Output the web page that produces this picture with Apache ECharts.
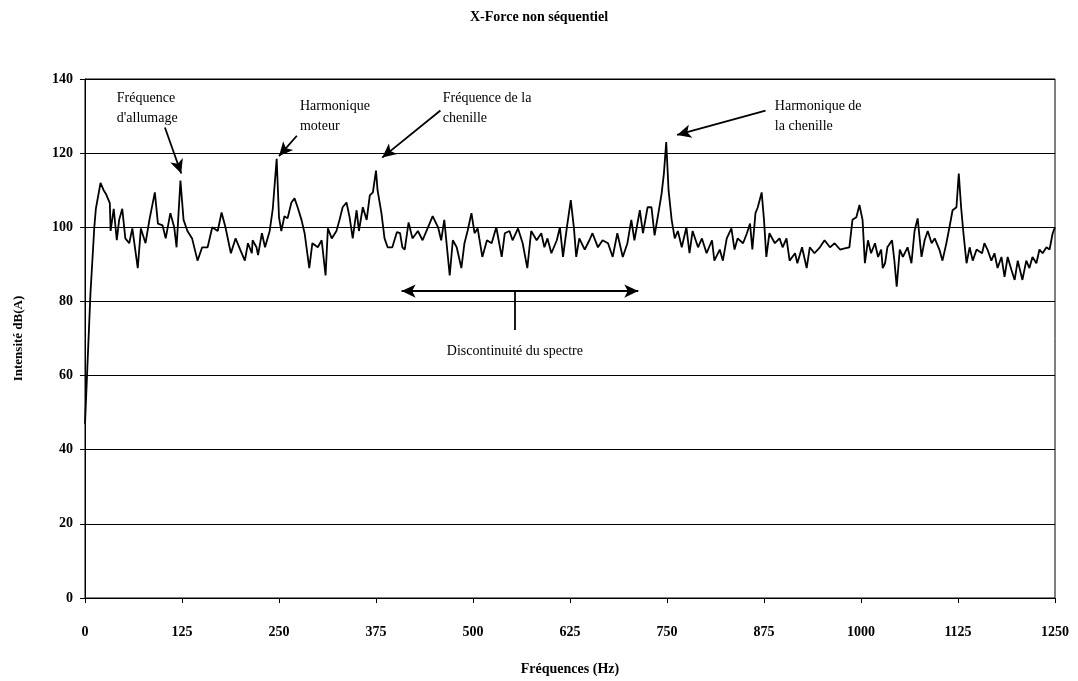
<!DOCTYPE html>
<html>
<head>
<meta charset="utf-8">
<script src="https://cdn.jsdelivr.net/npm/echarts@6/dist/echarts.min.js"></script>
<style>
  html, body { margin: 0; padding: 0; background: #fff; }
  #chart { width: 1078px; height: 681px; }
</style>
</head>
<body>
<div id="chart"></div>
<script>
// fréquences (Hz) et intensité dB(A)
const freq = [0, 3, 7, 12, 14, 20, 24, 27, 32, 33, 37, 41, 44, 48, 52, 57, 61, 68, 72, 78,
  83, 90, 94, 100, 104, 110, 115, 118, 123, 127, 132, 138, 145, 151, 158, 164, 171, 176, 181, 188,
  194, 200, 206, 210, 215, 216, 221, 223, 228, 232, 238, 242, 247, 250, 253, 257, 261, 266, 270, 274,
  279, 283, 289, 293, 300, 305, 310, 313, 318, 324, 328, 332, 337, 341, 345, 350, 353, 358, 363, 367,
  371, 375, 377, 382, 386, 390, 396, 402, 406, 409, 412, 417, 422, 429, 435, 442, 448, 455, 459, 463,
  470, 474, 479, 485, 489, 493, 498, 502, 506, 512, 518, 524, 530, 537, 541, 547, 551, 558, 564, 570,
  575, 582, 588, 592, 596, 601, 608, 612, 616, 621, 626, 630, 633, 637, 644, 650, 654, 661, 667, 674,
  680, 686, 693, 699, 704, 708, 715, 719, 725, 730, 734, 738, 743, 746, 749, 752, 756, 760, 764, 769,
  775, 779, 783, 790, 795, 801, 808, 811, 818, 822, 827, 833, 837, 841, 848, 853, 857, 860, 864, 867,
  872, 875, 878, 882, 889, 895, 899, 904, 908, 915, 918, 924, 930, 934, 940, 947, 953, 960, 966, 973,
  979, 985, 989, 994, 998, 1002, 1005, 1009, 1013, 1018, 1022, 1026, 1028, 1031, 1034, 1040, 1043, 1046, 1050, 1054,
  1060, 1065, 1069, 1073, 1078, 1082, 1086, 1091, 1095, 1101, 1105, 1110, 1114, 1118, 1123, 1126, 1129, 1132, 1136, 1140,
  1144, 1149, 1156, 1159, 1163, 1168, 1172, 1176, 1181, 1185, 1189, 1194, 1198, 1202, 1208, 1213, 1217, 1221, 1226, 1230,
  1234, 1239, 1243, 1247, 1250]
const intensity = [47, 62, 82, 100, 105, 112, 110, 109, 106.5, 99, 105, 96.5, 102, 105, 97, 95.7, 99.7, 89, 99.7, 95.7,
  102, 109.4, 101, 100.5, 97, 103.8, 100, 94.6, 112.6, 102, 99, 97, 91, 94.6, 94.6, 100, 99, 104, 100, 93,
  97, 94, 91, 95.7, 93, 96.5, 94.6, 92.5, 98.4, 94.6, 99, 105, 118.5, 102.7, 99, 103, 102.4, 106.7, 107.8, 105.4,
  102, 98.4, 89, 95.7, 94.6, 96.5, 87, 99.7, 97, 99, 102, 105.4, 106.7, 102.7, 97, 104.6, 99, 105.4, 102, 108.6,
  109.4, 115.3, 110, 103.8, 97, 94.6, 94.6, 98.7, 98.4, 94.6, 94, 101.3, 97, 99, 96.5, 100, 103, 100, 96.5, 102,
  87, 96.5, 94.6, 89, 95.7, 99, 103.8, 98.4, 99.7, 92, 96.5, 95.7, 100, 92, 98.4, 99, 96.5, 99.7, 95.7, 89,
  99, 96.5, 98.4, 94.6, 97, 93, 96.5, 100, 92, 100, 107.3, 100, 92, 97, 94, 96.5, 98.4, 94.6, 96.5, 95.7,
  92, 98.4, 92, 95.7, 102, 96.5, 104.6, 98.4, 105.4, 105.4, 97.8, 102.7, 109, 114.5, 123, 110, 102, 97, 99, 94.6,
  100, 93, 99, 94.6, 97, 93, 96.5, 91, 94, 91, 97, 99.7, 94, 97, 95.7, 98.4, 101, 94, 103.8, 105.4,
  109.4, 102, 92, 98.4, 95.7, 97, 94.6, 97, 91, 93, 90.3, 94.6, 89, 94.6, 93, 94.6, 96.5, 94.6, 95.7, 94,
  94.3, 94.6, 102, 102.7, 106, 102, 90.3, 96.5, 93, 95.7, 92, 94, 89, 90.3, 94.6, 96.5, 91, 84, 94, 92,
  94.6, 90.3, 99, 102.4, 92, 96.5, 99, 95.7, 97, 94, 91, 95.7, 100, 104.6, 105.4, 114.5, 105.4, 98.4, 90.3, 94.6,
  91, 94, 93, 95.7, 94, 91, 93, 89, 92, 86.6, 92, 88.4, 85.8, 91, 85.8, 91, 89, 92, 90.3, 94,
  93, 94.6, 94, 98.4, 100]

const xTicks = { min: 0, max: 1250, interval: 125 }
const yTicks = { min: 0, max: 140, interval: 20 }

// annotations : [x, y, texte] (coin haut-gauche du texte)
const labelPoints = [
  [41, 137.4, 'Fréquence\nd\'allumage'],
  [277, 135.2, 'Harmonique\nmoteur'],
  [461, 137.4, 'Fréquence de la\nchenille'],
  [889, 135.2, 'Harmonique de\nla chenille']
]
const noteText = [554, 68.4, 'Discontinuité du spectre']

// flèches : [x1, y1, x2, y2]
const arrows = [
  [103, 126.9, 124, 114.5],
  [273, 124.7, 250, 119.2],
  [458, 131.5, 383, 118.8],
  [877, 131.5, 763, 124.9]
]
const spanArrow = [408, 82.8, 713, 82.8]
const spanTick = [554, 82.8, 554, 72.3]

const font = 'Liberation Serif'
const chart = echarts.init(document.getElementById('chart'), null, { renderer: 'canvas' })

const lineData = freq.map((f, i) => [f, intensity[i]])

chart.setOption({
  backgroundColor: '#fff',
  animation: false,
  title: {
    text: 'X-Force non séquentiel',
    left: 'center',
    top: 5,
    textStyle: { fontFamily: font, fontSize: 14, fontWeight: 'bold', color: '#000' }
  },
  grid: {
    left: 85, right: 23, top: 79, bottom: 83,
    show: true, borderColor: '#000', borderWidth: 1
  },
  xAxis: {
    type: 'value',
    min: xTicks.min, max: xTicks.max, interval: xTicks.interval,
    name: 'Fréquences (Hz)',
    nameLocation: 'middle',
    nameGap: 64,
    nameTextStyle: { fontFamily: font, fontSize: 14, fontWeight: 'bold', color: '#000' },
    axisLine: { lineStyle: { color: '#000', width: 1 } },
    axisTick: { length: 5, lineStyle: { color: '#000' } },
    axisLabel: {
      margin: 27, fontFamily: font, fontSize: 14, fontWeight: 'bold', color: '#000',
      formatter: v => String(v)
    },
    splitLine: { show: false }
  },
  yAxis: {
    type: 'value',
    min: yTicks.min, max: yTicks.max, interval: yTicks.interval,
    name: 'Intensité dB(A)',
    nameLocation: 'middle',
    nameGap: 60,
    nameTextStyle: { fontFamily: font, fontSize: 13, fontWeight: 'bold', color: '#000' },
    axisLine: { show: true, lineStyle: { color: '#000', width: 1 } },
    axisTick: { show: true, length: 5, lineStyle: { color: '#000' } },
    axisLabel: { margin: 12, fontFamily: font, fontSize: 14, fontWeight: 'bold', color: '#000' },
    splitLine: { lineStyle: { color: '#000', width: 1 } }
  },
  series: [
    {
      type: 'line',
      data: lineData,
      showSymbol: false,
      symbol: 'none',
      lineStyle: { color: '#000', width: 1.8 },
      z: 3
    },
    {
      type: 'scatter',
      symbolSize: 0,
      itemStyle: { opacity: 1 },
      data: labelPoints,
      label: {
        show: true,
        position: [0, 0],
        align: 'left',
        verticalAlign: 'top',
        formatter: p => p.value[2],
        fontFamily: font, fontSize: 14, lineHeight: 20, color: '#000', opacity: 1
      },
      markLine: {
        silent: true,
        symbol: ['none', 'arrow'],
        symbolSize: [10, 14],
        label: { show: false },
        lineStyle: { color: '#000', width: 1.8, type: 'solid', opacity: 1 },
        data: arrows.map(a => [{ coord: [a[0], a[1]] }, { coord: [a[2], a[3]] }])
          .concat([
            [{ coord: [spanArrow[0], spanArrow[1]], symbol: 'arrow' }, { coord: [spanArrow[2], spanArrow[3]], symbol: 'arrow' }],
            [{ coord: [spanTick[0], spanTick[1]], symbol: 'none' }, { coord: [spanTick[2], spanTick[3]], symbol: 'none' }]
          ])
      },
      z: 4
    },
    {
      type: 'scatter',
      symbolSize: 0,
      itemStyle: { opacity: 1 },
      data: [noteText],
      label: {
        show: true,
        position: [0, 0],
        align: 'center',
        verticalAlign: 'top',
        formatter: p => p.value[2],
        fontFamily: font, fontSize: 14, color: '#000', opacity: 1
      }
    }
  ]
})
</script>
</body>
</html>
